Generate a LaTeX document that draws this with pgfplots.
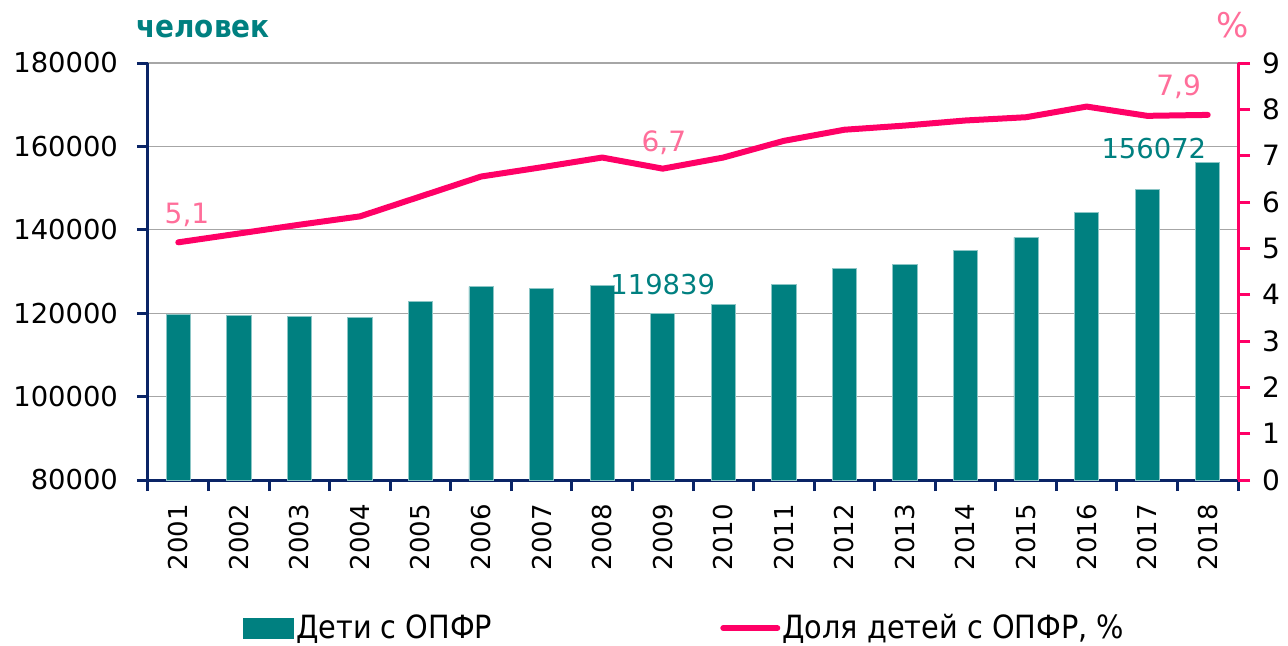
\documentclass[border=0pt]{standalone}
\usepackage{pgfplots}
\pgfplotsset{compat=1.18}
\usepackage{fontspec}
\setmainfont{DejaVu Sans}
\newfontfamily\condfont{DejaVu Sans Condensed}
\definecolor{tealc}{HTML}{008080}
\definecolor{pinkc}{HTML}{FF0066}
\definecolor{pinklab}{HTML}{FF6E9A}
\definecolor{navyc}{HTML}{0A2466}
\definecolor{gridc}{HTML}{A6A6A6}
\begin{document}
\begin{tikzpicture}
\path[use as bounding box] (-74pt,-82.5pt) rectangle (570pt,240pt);
\begin{axis}[
  at={(0,0)}, anchor=south west,
  scale only axis, width=545pt, height=208.5pt,
  xmin=-0.5, xmax=17.5, ymin=80000, ymax=180000,
  axis x line*=bottom, axis y line*=left,
  x axis line style={navyc, line width=1.5pt, -},
  y axis line style={navyc, line width=1.5pt, -},
  xtick={-0.5,0.5,...,17.5},
  xticklabels={2001,2002,2003,2004,2005,2006,2007,2008,2009,2010,2011,2012,2013,2014,2015,2016,2017,2018},
  x tick label as interval,
  x tick label style={rotate=90, anchor=east, font=\fontsize{13pt}{14pt}\selectfont, xshift=-3pt},
  ytick={80000,100000,120000,140000,160000,180000},
  scaled y ticks=false,
  yticklabel style={/pgf/number format/fixed, /pgf/number format/1000 sep={}, font=\fontsize{13.7pt}{15pt}\selectfont, xshift=-6pt},
  /pgf/number format/assume math mode=true,
  tick align=outside,
  major tick length=5.5pt,
  tick style={navyc, line width=1.5pt},
  ymajorgrids, grid style={gridc, line width=0.6pt},
  xmajorgrids=false,
]
\addplot[ybar, bar width=0.4, fill=tealc, draw=tealc!45, line width=0.4pt] coordinates {
(0,119680) (1,119520) (2,119280) (3,118880) (4,122800) (5,126400)
(6,126000) (7,126720) (8,119839) (9,122160) (10,126800) (11,130800)
(12,131760) (13,135040) (14,138160) (15,144240) (16,149680) (17,156072)};
\node[text=tealc, font=\fontsize{13.7pt}{15pt}\selectfont] at (axis cs:8.0,126800) {119839};
\node[text=tealc, font=\fontsize{13.7pt}{15pt}\selectfont] at (axis cs:16.11,159560) {156072};
\end{axis}
\begin{axis}[
  at={(0,0)}, anchor=south west,
  scale only axis, width=545pt, height=208.5pt,
  xmin=-0.5, xmax=17.5, ymin=0, ymax=9,
  axis x line=none, axis y line*=right,
  y axis line style={pinkc, line width=1.5pt, -},
  ytick={0,1,...,9},
  yticklabel style={font=\fontsize{14pt}{15pt}\selectfont, xshift=2.5pt},
  /pgf/number format/assume math mode=true,
  tick align=outside,
  major tick length=6pt,
  tick style={pinkc, line width=1.5pt},
  legend columns=2,
  legend style={at={(0.0815,-0.355)}, anchor=west, draw=none, fill=none,
    font=\condfont\fontsize{16pt}{17pt}\selectfont,
    /tikz/every even column/.append style={column sep=113pt},
    nodes={inner sep=1pt}},
]
\addlegendimage{legend image code/.code={\fill[tealc] (0pt,-5pt) rectangle (25pt,5pt);}}
\addlegendentry{Дети с ОПФР}
\addplot[pinkc, line width=3pt, line join=round, line cap=round,
  legend image code/.code={\draw[pinkc, line width=3pt, line cap=round] (0pt,0pt) -- (27pt,0pt);}]
 coordinates {
(0,5.13) (1,5.32) (2,5.51) (3,5.69) (4,6.12) (5,6.55) (6,6.75) (7,6.96)
(8,6.72) (9,6.96) (10,7.32) (11,7.56) (12,7.65) (13,7.76) (14,7.83)
(15,8.06) (16,7.86) (17,7.88)};
\addlegendentry{Доля детей с ОПФР, \%}
\node[text=pinklab, font=\fontsize{14pt}{15pt}\selectfont] at (axis cs:0.144,5.72) {5,1};
\node[text=pinklab, font=\fontsize{14pt}{15pt}\selectfont] at (axis cs:8.02,7.28) {6,7};
\node[text=pinklab, font=\fontsize{14pt}{15pt}\selectfont] at (axis cs:16.52,8.49) {7,9};
\end{axis}
\node[text=tealc, font=\condfont\bfseries\fontsize{15.5pt}{17pt}\selectfont] at (27.5pt,225.5pt) {человек};
\node[text=pinklab, font=\fontsize{17pt}{18pt}\selectfont] at (542.5pt,227.5pt) {\%};
\end{tikzpicture}
\end{document}
